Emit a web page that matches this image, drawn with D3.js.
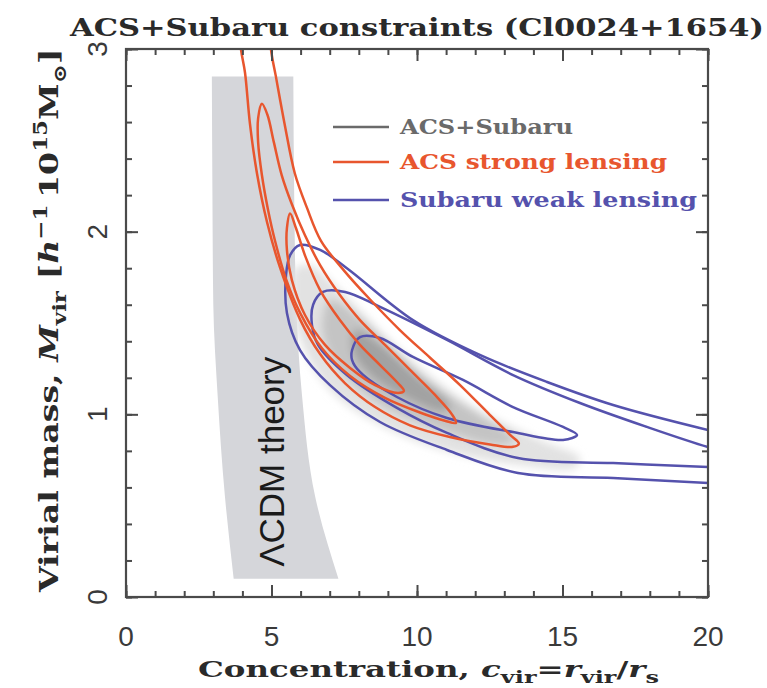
<!DOCTYPE html>
<meta charset="utf-8">
<style>
body { margin: 0; background: #fff; }
.axis .domain { display: none; }
.axis line { stroke: #4a4a4a; stroke-width: 2px; }
.contour { fill: none; stroke-width: 2.5px; stroke-linejoin: round; }
.serif { font-family: "DejaVu Serif", serif; font-weight: bold; }
.sans { font-family: "Liberation Sans", Arial, sans-serif; }
</style>
<svg width="767" height="688"></svg>
<script src="https://d3js.org/d3.v7.min.js"></script>
<script>

// tick labels
var xTicks = [0, 5, 10, 15, 20],
    yTicks = [0, 1, 2, 3];

// LCDM theory band: mass, lower and upper concentration
var bandMass = [2.85, 2.2, 1.6, 1.1, 0.55, 0.1],
    bandLow  = [2.95, 2.97, 3.0, 3.15, 3.4, 3.7],
    bandHigh = [5.75, 5.78, 5.85, 6.05, 6.5, 7.3];

// ACS strong lensing contours [c, M]
var redOuter = [[3.8,3.3],[3.95,3.0],[4.09,2.87],[4.26,2.59],[4.5,2.32],[4.85,2.05],[5.3,1.8],[5.98,1.52],[6.67,1.33],[7.53,1.17],[8.56,1.04],[9.76,0.94],[11.13,0.876],[12.51,0.835],[13.3,0.822],[13.5,0.84],
                [13.2,0.887],[12.51,0.996],[11.48,1.16],[10.45,1.31],[9.42,1.46],[8.38,1.63],[7.53,1.78],[6.7,1.95],[6.22,2.13],[5.8,2.32],[5.45,2.59],[5.15,2.85],[4.98,3.0],[4.85,3.3]];
var redMid = [[4.67,2.70],[4.54,2.62],[4.54,2.49],[4.67,2.31],[4.88,2.12],[5.12,1.95],[5.5,1.74],[6.0,1.55],[6.74,1.36],[7.7,1.21],[8.9,1.09],[10.1,1.01],[10.96,0.965],[11.34,0.953],
              [11.2,1.0],[10.62,1.106],[9.76,1.243],[8.9,1.38],[8.04,1.516],[7.35,1.653],[6.67,1.817],[6.15,1.98],[5.7,2.15],[5.35,2.31],[5.08,2.49],[4.86,2.64]];
var redInner = [[5.64,2.10],[5.53,2.02],[5.53,1.90],[5.70,1.735],[6.15,1.544],[6.84,1.38],[7.70,1.254],[8.56,1.16],[9.35,1.117],[9.55,1.128],
                [9.35,1.17],[8.73,1.27],[8.04,1.38],[7.35,1.516],[6.67,1.68],[6.15,1.87],[5.84,2.02]];

// Subaru weak lensing contours [c, M]
var blueOuter = [[21.5,0.86],[20,0.914],[16.74,1.051],[14.47,1.177],[12.16,1.325],[9.86,1.516],[7.59,1.8],[6.67,1.90],[5.98,1.927],[5.64,1.872],[5.50,1.763],[5.53,1.555],[5.98,1.352],[7.01,1.16],[8.73,0.958],[11.03,0.805],[13.47,0.679],[16.74,0.651],[20,0.624],[21.5,0.61]];
var blueMid = [[21.5,0.76],[20,0.821],[17.9,0.931],[15.6,1.062],[13.3,1.215],[11.03,1.407],[8.73,1.588],[7.53,1.67],[6.77,1.67],[6.43,1.60],[6.39,1.49],[6.6,1.38],[7.59,1.215],[9.31,1.035],[11.03,0.898],[13.47,0.761],[16.74,0.733],[20,0.712],[21.5,0.70]];
var blueInner = [[7.77,1.352],[8.04,1.423],[8.73,1.418],[9.86,1.314],[11.58,1.188],[13.3,1.04],[15.02,0.931],[15.5,0.887],[15.02,0.86],[13.3,0.903],[11.03,0.98],[9.31,1.095],[8.04,1.232],[7.77,1.297]];

// ACS+Subaru combined regions [c, M]
var joint3 = [[5.81,1.80],[6.32,1.817],[7.35,1.68],[9.42,1.352],[11.82,1.051],[14.23,0.86],[15.6,0.761],[15.43,0.706],[13.54,0.723],[11.13,0.794],[8.73,0.942],[7.01,1.133],[5.98,1.407],[5.70,1.626]];
var joint2 = [[7.01,1.626],[8.04,1.527],[10.1,1.215],[12.16,0.996],[13.37,0.86],[12.85,0.832],[10.79,0.914],[8.73,1.051],[7.35,1.243],[6.74,1.462]];
var joint1 = [[7.87,1.462],[8.56,1.407],[10.1,1.199],[11.13,1.051],[10.96,1.013],[9.76,1.078],[8.38,1.215],[7.77,1.352]];

var legendKeys = ["ACS+Subaru", "ACS strong lensing", "Subaru weak lensing"],
    legendColors = ["#6a6a6a", "#e8562e", "#5552ad"];

var svg = d3.select("svg"),
    margin = {top: 49, right: 59, bottom: 91, left: 126},
    width = +svg.attr("width") - margin.left - margin.right,
    height = +svg.attr("height") - margin.top - margin.bottom,
    g = svg.append("g").attr("transform", "translate(" + margin.left + "," + margin.top + ")");

var x = d3.scaleLinear().domain([0, 20]).range([0, width]);
var y = d3.scaleLinear().domain([0, 3]).range([height, 0]);

var defs = svg.append("defs");
defs.append("clipPath").attr("id", "clip")
  .append("rect").attr("width", width).attr("height", height);
defs.append("filter").attr("id", "soft").attr("x", "-20%").attr("y", "-20%").attr("width", "140%").attr("height", "140%")
  .append("feGaussianBlur").attr("stdDeviation", 4);

var plot = g.append("g").attr("clip-path", "url(#clip)");

// LCDM band
var band = bandMass.map(function(m, i) { return {m: m, lo: bandLow[i], hi: bandHigh[i]}; });
plot.append("path")
    .datum(band)
    .attr("fill", "#d5d6da")
    .attr("d", d3.area()
      .y(function(d) { return y(d.m); })
      .x0(function(d) { return x(d.lo); })
      .x1(function(d) { return x(d.hi); })
      .curve(d3.curveMonotoneY));

plot.append("text")
    .attr("class", "sans")
    .attr("transform", "translate(" + x(5.02) + "," + y(0.74) + ") rotate(-90)")
    .attr("text-anchor", "middle")
    .attr("dy", "0.35em")
    .attr("font-size", 35)
    .attr("fill", "#1a1a1a")
    .text("ΛCDM theory");

var contourLine = d3.line()
    .x(function(d) { return x(d[0]); })
    .y(function(d) { return y(d[1]); })
    .curve(d3.curveCatmullRomClosed.alpha(0.5));

// combined constraints, soft gray shading
var joint = plot.append("g").attr("filter", "url(#soft)");
[[joint3, "#e2e2e2"], [joint2, "#c4c4c4"], [joint1, "#a2a2a2"]].forEach(function(p) {
  joint.append("path").attr("d", contourLine(p[0])).attr("fill", p[1]);
});

[blueOuter, blueMid, blueInner].forEach(function(c) {
  plot.append("path").attr("class", "contour").attr("stroke", legendColors[2]).attr("d", contourLine(c));
});
[redOuter, redMid, redInner].forEach(function(c) {
  plot.append("path").attr("class", "contour").attr("stroke", legendColors[1]).attr("d", contourLine(c));
});

// ticks on all four sides, pointing in
function ticks(axis, tr, major, minor) {
  g.append("g").attr("class", "axis").attr("transform", tr)
      .call(axis.tickValues(minor).tickSize(-6).tickFormat(""));
  g.append("g").attr("class", "axis").attr("transform", tr)
      .call(axis.tickValues(major).tickSize(-12).tickFormat(""));
}
var xMinor = d3.range(0, 21, 1), yMinor = d3.range(0, 3.01, 0.2);
ticks(d3.axisBottom(x), "translate(0," + height + ")", xTicks, xMinor);
ticks(d3.axisTop(x), "translate(0,0)", xTicks, xMinor);
ticks(d3.axisLeft(y), "translate(0,0)", yTicks, yMinor);
ticks(d3.axisRight(y), "translate(" + width + ",0)", yTicks, yMinor);

g.append("rect")
    .attr("width", width)
    .attr("height", height)
    .attr("fill", "none")
    .attr("stroke", "#4a4a4a")
    .attr("stroke-width", 2.2);

// tick labels
g.selectAll(".xlab")
  .data(xTicks)
  .enter().append("text")
    .attr("class", "sans")
    .attr("x", function(d) { return x(d); })
    .attr("y", height + 49)
    .attr("text-anchor", "middle")
    .attr("font-size", 28)
    .attr("fill", "#3a3a3a")
    .text(function(d) { return d; });

g.selectAll(".ylab")
  .data(yTicks)
  .enter().append("text")
    .attr("class", "sans")
    .attr("transform", function(d) { return "translate(-19," + y(d) + ") rotate(-90)"; })
    .attr("text-anchor", "middle")
    .attr("font-size", 28)
    .attr("fill", "#3a3a3a")
    .text(function(d) { return d; });

// title and axis titles
svg.append("text")
    .attr("class", "serif")
    .attr("x", 70)
    .attr("y", 36)
    .attr("font-size", 25)
    .attr("fill", "#2a2a2a")
    .attr("textLength", 694)
    .attr("lengthAdjust", "spacingAndGlyphs")
    .text("ACS+Subaru constraints (Cl0024+1654)");

// stretch a label along its baseline to a given length
function fit(text, len, tr) {
  var k = len / text.node().getComputedTextLength();
  text.attr("transform", tr + " scale(" + k + ",1)");
}

var xl = svg.append("text")
    .attr("class", "serif")
    .attr("font-size", 23)
    .attr("fill", "#2a2a2a");
xl.append("tspan").text("Concentration, ");
xl.append("tspan").attr("font-style", "italic").text("c");
xl.append("tspan").attr("dy", 6).attr("font-size", 17).text("vir");
xl.append("tspan").attr("dy", -6).text("=");
xl.append("tspan").attr("font-style", "italic").text("r");
xl.append("tspan").attr("dy", 6).attr("font-size", 17).text("vir");
xl.append("tspan").attr("dy", -6).text("/");
xl.append("tspan").attr("font-style", "italic").text("r");
xl.append("tspan").attr("dy", 6).attr("font-size", 17).text("s");
fit(xl, 461, "translate(198,677)");

var yl = svg.append("text")
    .attr("class", "serif")
    .attr("font-size", 26)
    .attr("fill", "#2a2a2a");
yl.append("tspan").text("Virial mass, ");
yl.append("tspan").attr("font-style", "italic").text("M");
yl.append("tspan").attr("dy", 8).attr("font-size", 18).text("vir");
yl.append("tspan").attr("dy", -8).text(" [");
yl.append("tspan").attr("font-style", "italic").text("h");
yl.append("tspan").attr("dy", -11).attr("font-size", 18).text("−1");
yl.append("tspan").attr("dy", 11).text("\u200910");
yl.append("tspan").attr("dy", -11).attr("font-size", 18).text("15");
yl.append("tspan").attr("dy", 11).text("M");
yl.append("tspan").attr("dy", 8).attr("font-size", 18).text("⊙");
yl.append("tspan").attr("dy", -8).text("]");
fit(yl, 544, "translate(58,592) rotate(-90)");

// legend
var legendW = [173, 267, 297];
var legend = g.append("g")
  .selectAll("g")
  .data(legendKeys)
  .enter().append("g")
    .attr("transform", function(d, i) { return "translate(0," + [78, 113, 151][i] + ")"; });

legend.append("line")
    .attr("x1", 207).attr("x2", 263)
    .attr("stroke", function(d, i) { return legendColors[i]; })
    .attr("stroke-width", 2.4);

legend.append("text")
    .attr("class", "serif")
    .attr("x", 274)
    .attr("dy", "0.35em")
    .attr("font-size", 20)
    .attr("fill", function(d, i) { return legendColors[i]; })
    .attr("textLength", function(d, i) { return legendW[i]; })
    .attr("lengthAdjust", "spacingAndGlyphs")
    .text(function(d) { return d; });

</script>
